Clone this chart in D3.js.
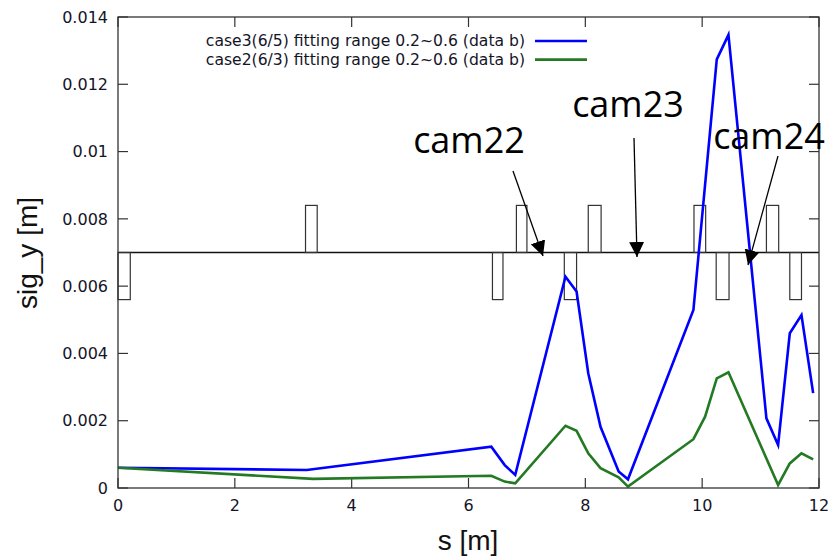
<!DOCTYPE html>
<html>
<head>
<meta charset="utf-8">
<script src="https://d3js.org/d3.v7.min.js"></script>
<style>
  body { margin: 0; background: #fff; }
  svg { display: block; }
</style>
</head>
<body>
<div id="chart"></div>
<script>
// data
var xTicks = [0, 2, 4, 6, 8, 10, 12];
var yTicks = [0, 0.002, 0.004, 0.006, 0.008, 0.01, 0.012, 0.014];
var yTickLabels = ["0", "0.002", "0.004", "0.006", "0.008", "0.01", "0.012", "0.014"];

var case3S = [0, 3.23, 6.39, 6.62, 6.80, 7.66, 7.85, 8.05, 8.26, 8.57, 8.73, 9.85, 10.25, 10.45, 11.10, 11.30, 11.50, 11.70, 11.90];
var case3V = [0.000604, 0.000535, 0.00123, 0.00068, 0.00039, 0.00628, 0.00584, 0.00341, 0.00182, 0.00049, 0.00026, 0.00529, 0.01274, 0.01347, 0.00207, 0.00128, 0.0046, 0.00514, 0.00282];

var case2S = [0, 3.34, 6.39, 6.62, 6.80, 7.66, 7.85, 8.05, 8.26, 8.57, 8.73, 9.85, 10.05, 10.25, 10.45, 11.30, 11.50, 11.70, 11.90];
var case2V = [0.0006, 0.00027, 0.000366, 0.00019, 0.00014, 0.00185, 0.0017, 0.00103, 0.00059, 0.00032, 0.00004, 0.00145, 0.00212, 0.00326, 0.00344, 0.00009, 0.00073, 0.00103, 0.00085];

// magnet layout (quads): start, end, sign
var magStart = [0, 3.21, 6.41, 6.82, 7.64, 8.05, 9.86, 10.24, 11.10, 11.50];
var magEnd   = [0.21, 3.41, 6.59, 7.00, 7.85, 8.27, 10.06, 10.46, 11.31, 11.70];
var magSign  = [-1, 1, -1, 1, -1, 1, 1, -1, 1, -1];
var magBase = 0.007, magH = 0.0014;

var legendNames = ["case3(6/5) fitting range 0.2~0.6 (data b)", "case2(6/3) fitting range 0.2~0.6 (data b)"];
var colors = ["#0000ff", "#237a23"];

var margin = {top: 17, right: 12, bottom: 69, left: 118},
  W = 831, H = 557,
  width = W - margin.left - margin.right,
  height = H - margin.top - margin.bottom;

var svg = d3.select("#chart").append("svg")
  .attr("width", W).attr("height", H);
var g = svg.append("g")
  .attr("transform", "translate(" + margin.left + "," + margin.top + ")");

var x = d3.scaleLinear().domain([0, 12]).range([0, width]);
var y = d3.scaleLinear().domain([0, 0.014]).range([height, 0]);

var tickFont = "'DejaVu Sans', sans-serif";

// ticks (inward, mirrored)
xTicks.forEach(function(t) {
  g.append("line").attr("x1", x(t)).attr("x2", x(t)).attr("y1", height).attr("y2", height - 10)
    .attr("stroke", "#333").attr("stroke-width", 1.2);
  g.append("line").attr("x1", x(t)).attr("x2", x(t)).attr("y1", 0).attr("y2", 10)
    .attr("stroke", "#333").attr("stroke-width", 1.2);
  g.append("text").attr("x", x(t)).attr("y", height + 23)
    .attr("text-anchor", "middle").attr("font-family", tickFont).attr("font-size", "16px")
    .attr("fill", "#141428").text(t);
});
yTicks.forEach(function(t, i) {
  g.append("line").attr("x1", 0).attr("x2", 10).attr("y1", y(t)).attr("y2", y(t))
    .attr("stroke", "#333").attr("stroke-width", 1.2);
  g.append("line").attr("x1", width).attr("x2", width - 10).attr("y1", y(t)).attr("y2", y(t))
    .attr("stroke", "#333").attr("stroke-width", 1.2);
  g.append("text").attr("x", -10).attr("y", y(t)).attr("dy", "0.36em")
    .attr("text-anchor", "end").attr("font-family", tickFont).attr("font-size", "16px")
    .attr("fill", "#141428").text(yTickLabels[i]);
});

// magnet boxes + beam line
g.append("line").attr("x1", 0).attr("x2", width).attr("y1", y(magBase)).attr("y2", y(magBase))
  .attr("stroke", "#111").attr("stroke-width", 1.4);
magStart.forEach(function(s, i) {
  var top = magSign[i] > 0 ? magBase + magH : magBase;
  g.append("rect")
    .attr("x", x(s)).attr("y", y(top))
    .attr("width", x(magEnd[i]) - x(s))
    .attr("height", y(0) - y(magH))
    .attr("fill", "none").attr("stroke", "#333").attr("stroke-width", 1.2);
});

// curves
var line = d3.line().x(function(d) { return x(d[0]); }).y(function(d) { return y(d[1]); });
var series = [d3.zip(case3S, case3V), d3.zip(case2S, case2V)];
series.forEach(function(d, i) {
  g.append("path").datum(d).attr("d", line)
    .attr("fill", "none").attr("stroke", colors[i]).attr("stroke-width", 2.6)
    .attr("stroke-linejoin", "miter");
});

// border
g.append("rect").attr("x", 0).attr("y", 0).attr("width", width).attr("height", height)
  .attr("fill", "none").attr("stroke", "#333").attr("stroke-width", 1.3);

// legend
legendNames.forEach(function(n, i) {
  var ly = 41 + i * 18.6 - margin.top;
  g.append("text").attr("x", 525 - margin.left).attr("y", ly).attr("dy", "0.35em")
    .attr("text-anchor", "end").attr("font-family", tickFont).attr("font-size", "15.6px")
    .attr("fill", "#141428").text(n);
  g.append("line").attr("x1", 535 - margin.left).attr("x2", 587 - margin.left)
    .attr("y1", ly).attr("y2", ly)
    .attr("stroke", colors[i]).attr("stroke-width", 2.6);
});

// axis titles
svg.append("text").attr("x", 468).attr("y", 550).attr("text-anchor", "middle")
  .attr("font-family", "'Liberation Sans', Arial, sans-serif").attr("font-size", "28px")
  .attr("fill", "#111").text("s [m]");
svg.append("text").attr("transform", "translate(37,253) rotate(-90)").attr("text-anchor", "middle")
  .attr("font-family", "'Liberation Sans', Arial, sans-serif").attr("font-size", "28px")
  .attr("fill", "#111").text("sig_y [m]");

// camera annotations
var camNames = ["cam22", "cam23", "cam24"];
var camText = [[469, 153], [628, 117], [769, 149]];
var camArrow = [[513, 171, 543, 256], [634, 138, 637, 257], [778, 156, 748, 265]];
var defs = svg.append("defs");
defs.append("marker").attr("id", "ah").attr("viewBox", "0 0 10 10")
  .attr("refX", 10).attr("refY", 5).attr("markerWidth", 15).attr("markerHeight", 15)
  .attr("markerUnits", "userSpaceOnUse").attr("orient", "auto")
  .append("path").attr("d", "M0,0 L10,5 L0,10 Z").attr("fill", "#000");
camNames.forEach(function(c, i) {
  svg.append("text").attr("x", camText[i][0]).attr("y", camText[i][1])
    .attr("text-anchor", "middle").attr("font-family", "'Open Sans', sans-serif")
    .attr("font-size", "36px").attr("fill", "#000").text(c);
  var a = camArrow[i];
  svg.append("line").attr("x1", a[0]).attr("y1", a[1]).attr("x2", a[2]).attr("y2", a[3])
    .attr("stroke", "#000").attr("stroke-width", 1.3).attr("marker-end", "url(#ah)");
});
</script>
</body>
</html>
